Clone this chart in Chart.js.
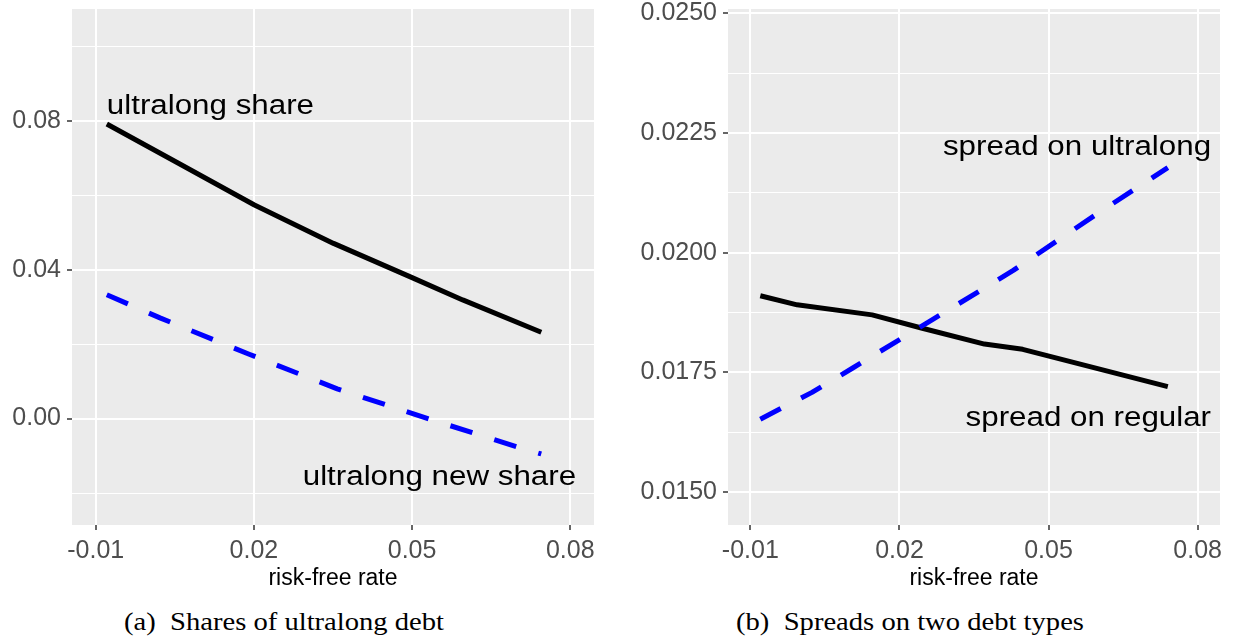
<!DOCTYPE html>
<html>
<head>
<meta charset="utf-8">
<script src="https://cdn.jsdelivr.net/npm/chart.js@4.4.1/dist/chart.umd.min.js"></script>
<style>
  html, body { margin: 0; padding: 0; background: #ffffff; }
  #wrap { position: relative; width: 1236px; height: 643px; overflow: hidden; }
  #wrap canvas { position: absolute; top: 0; }
  .cap {
    position: absolute; top: 609px; width: 500px; line-height: 26px;
    font-family: "Liberation Serif", serif; font-size: 26px; color: #000;
    text-align: center; white-space: nowrap;
    transform: scaleX(1.1); transform-origin: 50% 50%;
  }
</style>
</head>
<body>
<div id="wrap">
  <canvas id="shares" width="618" height="600" style="left:0px"></canvas>
  <canvas id="spreads" width="618" height="600" style="left:618px"></canvas>
  <div class="cap" style="left:34px">(a)&nbsp;&nbsp;Shares of ultralong debt</div>
  <div class="cap" style="left:660px">(b)&nbsp;&nbsp;Spreads on two debt types</div>
</div>
<script>
// Tick positions
const rateTicks = [-0.01, 0.02, 0.05, 0.08];
const shareTicks = [0.00, 0.04, 0.08];
const shareMinorTicks = [-0.02, 0.02, 0.06, 0.10];
const spreadTicks = [0.0150, 0.0175, 0.0200, 0.0225, 0.0250];
const spreadMinorTicks = [0.01625, 0.01875, 0.02125, 0.02375];

// Panel (a): shares of ultralong debt against the risk-free rate
const shareRate = [-0.0079, 0.0056, 0.0201, 0.0351, 0.0500, 0.0596, 0.0745];
const ultralongShare = [0.0792, 0.0687, 0.0574, 0.0471, 0.0379, 0.0319, 0.0232];
const newShareRate = [-0.0079, 0.0023, 0.0191, 0.0358, 0.0530, 0.0701, 0.0745];
const ultralongNewShare = [0.0333, 0.0270, 0.0173, 0.0080, 0.0000, -0.0077, -0.0095];

// Panel (b): spreads on the two debt types
const regularRate = [-0.0080, -0.0006, 0.0145, 0.0246, 0.0371, 0.0448, 0.0740];
const spreadRegular = [0.01910, 0.01891, 0.01870, 0.01842, 0.01809, 0.01798, 0.01720];
const ultralongRate = [-0.0080, 0.0024, 0.0106, 0.0268, 0.0429, 0.0590, 0.0740];
const spreadUltralong = [0.01652, 0.01708, 0.01759, 0.01861, 0.01963, 0.02076, 0.02178];

// Line labels placed in data units
const sharesLabels = [
  { text: 'ultralong share', x: -0.0079, y: 0.0820, align: 'left' },
  { text: 'ultralong new share', x: 0.0811, y: -0.0179, align: 'right' }
];
const spreadsLabels = [
  { text: 'spread on ultralong', x: 0.0827, y: 0.02204, align: 'right' },
  { text: 'spread on regular', x: 0.0827, y: 0.01638, align: 'right' }
];

const SANS = '"Liberation Sans", Arial, sans-serif';
const near = (v, list) => list.some(m => Math.abs(m - v) < 1e-9);
const points = (xs, ys) => xs.map((x, i) => ({ x: x, y: ys[i] }));

const panelPlugin = {
  id: 'panel',
  beforeDraw(chart) {
    const { ctx, chartArea: a } = chart;
    ctx.save();
    ctx.fillStyle = '#EBEBEB';
    ctx.fillRect(a.left, a.top, a.right - a.left, a.bottom - a.top);
    ctx.restore();
  },
  afterDatasetsDraw(chart) {
    const items = chart.canvas.id === 'shares' ? sharesLabels : spreadsLabels;
    const { ctx } = chart;
    const sx = chart.scales.x, sy = chart.scales.y;
    ctx.save();
    ctx.fillStyle = '#000000';
    ctx.font = '27px ' + SANS;
    ctx.textBaseline = 'alphabetic';
    items.forEach(it => {
      ctx.save();
      ctx.translate(sx.getPixelForValue(it.x), sy.getPixelForValue(it.y));
      ctx.scale(1.16, 1);
      ctx.textAlign = it.align;
      ctx.fillText(it.text, 0, 0);
      ctx.restore();
    });
    ctx.restore();
  }
};

function rateAxis() {
  return {
    type: 'linear', min: -0.0145, max: 0.0845,
    afterBuildTicks: s => { s.ticks = rateTicks.map(v => ({ value: v })); },
    afterFit: s => { s.height = 75; s.paddingLeft = 0; s.paddingRight = 0; },
    ticks: {
      autoSkip: false, maxRotation: 0, color: '#4D4D4D', padding: 6,
      font: { family: SANS, size: 25 },
      callback: v => v.toFixed(2)
    },
    grid: { color: '#FFFFFF', lineWidth: 2, tickLength: 5, tickColor: '#333333', tickWidth: 1.5 },
    border: { display: false },
    title: {
      display: true, text: 'risk-free rate', color: '#000000',
      font: { family: SANS, size: 23 }, padding: { top: 0, bottom: 8 }
    }
  };
}

function valueAxis(min, max, major, minor, digits, width) {
  return {
    type: 'linear', min: min, max: max,
    afterBuildTicks: s => {
      s.ticks = major.concat(minor).sort((a, b) => a - b).map(v => ({ value: v }));
    },
    afterFit: s => { s.width = width; s.paddingTop = 0; s.paddingBottom = 0; },
    ticks: {
      autoSkip: false, color: '#4D4D4D', padding: 6,
      font: { family: SANS, size: 25 },
      callback: v => near(v, major) ? v.toFixed(digits) : ''
    },
    grid: {
      color: '#FFFFFF',
      lineWidth: c => (c.tick && near(c.tick.value, major)) ? 2 : 1,
      tickLength: 5,
      tickWidth: 1.5,
      tickColor: c => (c.tick && near(c.tick.value, major)) ? '#333333' : 'rgba(0,0,0,0)'
    },
    border: { display: false }
  };
}

function lineSet(data, color, dashed) {
  return {
    data: data, borderColor: color, borderWidth: 5, borderDash: dashed ? [23, 23] : [],
    borderCapStyle: 'butt', borderJoinStyle: 'round',
    pointRadius: 0, pointHoverRadius: 0, fill: false, tension: 0
  };
}

function baseOptions(rightPad, yAxis) {
  return {
    responsive: false, animation: false, events: [],
    layout: { padding: { left: 0, top: 9, right: rightPad, bottom: 0 } },
    plugins: { legend: { display: false }, tooltip: { enabled: false } },
    scales: { x: rateAxis(), y: yAxis }
  };
}

new Chart(document.getElementById('shares'), {
  type: 'line',
  data: {
    datasets: [
      lineSet(points(shareRate, ultralongShare), '#000000', false),
      lineSet(points(newShareRate, ultralongNewShare), '#0000FF', true)
    ]
  },
  options: baseOptions(24, valueAxis(-0.0286, 0.1101, shareTicks, shareMinorTicks, 2, 72)),
  plugins: [panelPlugin]
});

new Chart(document.getElementById('spreads'), {
  type: 'line',
  data: {
    datasets: [
      lineSet(points(ultralongRate, spreadUltralong), '#0000FF', true),
      lineSet(points(regularRate, spreadRegular), '#000000', false)
    ]
  },
  options: baseOptions(16, valueAxis(0.014308, 0.025094, spreadTicks, spreadMinorTicks, 4, 110)),
  plugins: [panelPlugin]
});
</script>
</body>
</html>
